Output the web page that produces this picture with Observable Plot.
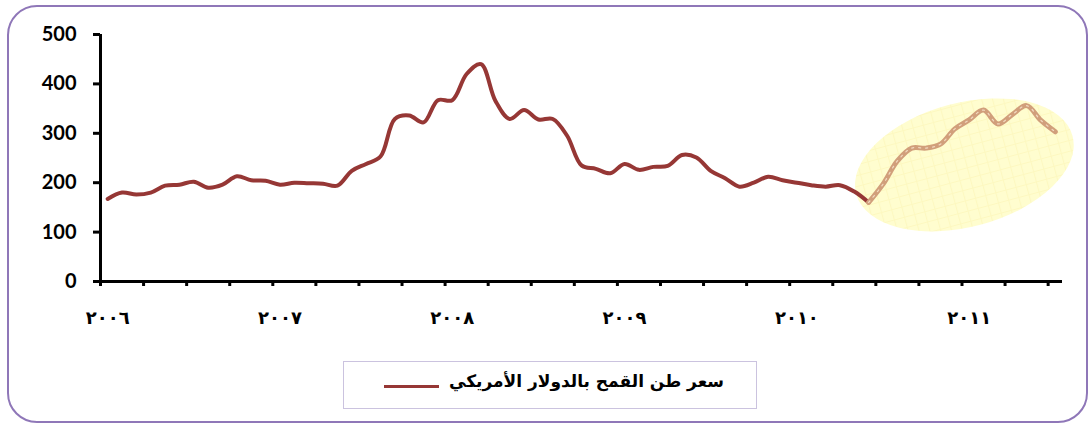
<!DOCTYPE html>
<html>
<head>
<meta charset="utf-8">
<script src="https://cdn.jsdelivr.net/npm/d3@7"></script>
<script src="https://cdn.jsdelivr.net/npm/@observablehq/plot@0.6"></script>
<style>
  html, body { margin: 0; padding: 0; background: #fff; }
  body { width: 1088px; height: 425px; overflow: hidden; position: relative; }
  #chart { position: absolute; left: 0; top: 0; }
  #frame { position: absolute; left: 7px; top: 5px; width: 1081px; height: 418px; border: 2px solid #8f77b8;
           border-radius: 30px; box-sizing: border-box; pointer-events: none; }
  #legend { position: absolute; left: 343px; top: 361px; width: 414px; height: 48px; box-sizing: border-box;
            border: 1.5px solid #cbc3df; background: #fff; }
  #legend .sw { position: absolute; left: 40px; top: 23px; width: 55px; height: 3px; background: #963735; }
  #legend .lbl { position: absolute; right: 32px; top: 9px; direction: rtl; font-family: "DejaVu Sans", sans-serif;
                 font-weight: bold; font-size: 17px; color: #000; white-space: nowrap; }
</style>
</head>
<body>
<div id="chart"></div>
<div id="frame"></div>
<div id="legend"><div class="sw"></div><div class="lbl"></div></div>
<script>
// Monthly wheat price (USD per tonne), Jan 2006 .. Jul 2011 (67 months)
const startYear = 2006;
const prices = [
  167,180,176,180,194,196,202,190,196,213,205,204,
  196,200,199,198,194,224,238,253,329,336,322,367,
  367,420,440,366,329,347,328,329,295,235,228,219,
  238,226,232,234,256,251,224,209,192,200,212,205,
  200,195,192,195,182,160,197,244,270,270,278,309,
  327,347,319,338,356,326,303
];
const highlightStart = 53;           // month index where the highlighted segment begins
const yearLabels = ["٢٠٠٦","٢٠٠٧","٢٠٠٨","٢٠٠٩","٢٠١٠","٢٠١١"];
const yTicks = [0, 100, 200, 300, 400, 500];
const seriesName = "سعر طن القمح بالدولار الأمريكي";

const rows = prices.map((v, i) => ({month: i, price: v}));
const mainRows = rows.filter(d => d.month <= highlightStart);
const hlRows = rows.filter(d => d.month >= highlightStart);
const quarterTicks = d3.range(0, prices.length, 3).map(m => m - 0.5);   // tick marks between categories
const yearIdx = yearLabels.map((_, k) => k * 12);                      // January of each year

// highlight ellipse annotation (data coordinates)
const hlCenter = {month: 59.7, price: 235};

function ellipseMark(index, scales) {
  const cx = scales.x(hlCenter.month), cy = scales.y(hlCenter.price);
  const g = d3.create("svg:g");
  const defs = g.append("defs");
  const pat = defs.append("pattern").attr("id", "hlgrid").attr("patternUnits", "userSpaceOnUse")
    .attr("width", 10.5).attr("height", 10.5);
  pat.append("rect").attr("width", 10.5).attr("height", 10.5).attr("fill", "#fffdcf");
  pat.append("path").attr("d", "M0,0.5H10.5M0.5,0V10.5").attr("stroke", "#fdf8c0").attr("stroke-width", 1);
  g.append("ellipse").attr("cx", cx).attr("cy", cy).attr("rx", 112).attr("ry", 62)
    .attr("transform", `rotate(-15 ${cx} ${cy})`).attr("fill", "url(#hlgrid)");
  return g.node();
}

const chart = Plot.plot({
  width: 1088,
  height: 345,
  marginLeft: 100,
  marginRight: 26,
  marginTop: 34,
  marginBottom: 64,
  style: {background: "transparent", overflow: "visible"},
  x: {domain: [-0.5, prices.length - 0.5]},
  y: {domain: [0, 500]},
  marks: [
    ellipseMark,
    Plot.axisY({ticks: yTicks, tickSize: 7, tickPadding: 17, strokeWidth: 3, fontSize: 20, fontWeight: "bold",
                fontFamily: "Lato, 'Open Sans', sans-serif", fill: "#000", label: null}),
    Plot.axisX({ticks: quarterTicks, tickSize: 5, tickFormat: () => "", strokeWidth: 3, label: null}),
    Plot.ruleX([-0.5], {strokeWidth: 3, stroke: "#000"}),
    Plot.ruleY([0], {strokeWidth: 3, stroke: "#000"}),
    Plot.text(yearIdx, {x: d => d, y: 0, text: (d, i) => yearLabels[i], dy: 37, fontSize: 18, fontWeight: "bold",
                        fontFamily: "'DejaVu Sans', sans-serif", fill: "#000"}),
    Plot.line(mainRows, {x: "month", y: "price", curve: "catmull-rom", stroke: "#963735", strokeWidth: 4}),
    Plot.line(hlRows, {x: "month", y: "price", curve: "catmull-rom", stroke: "#d19f7b", strokeWidth: 5}),
    Plot.line(hlRows, {x: "month", y: "price", curve: "catmull-rom", stroke: "#f1d9c0", strokeWidth: 1.2,
                       strokeDasharray: "2,5"})
  ]
});
d3.select(chart).selectAll("g[aria-label=text] text").attr("letter-spacing", "8px");
document.getElementById("chart").appendChild(chart);
document.querySelector("#legend .lbl").textContent = seriesName;
</script>
</body>
</html>
